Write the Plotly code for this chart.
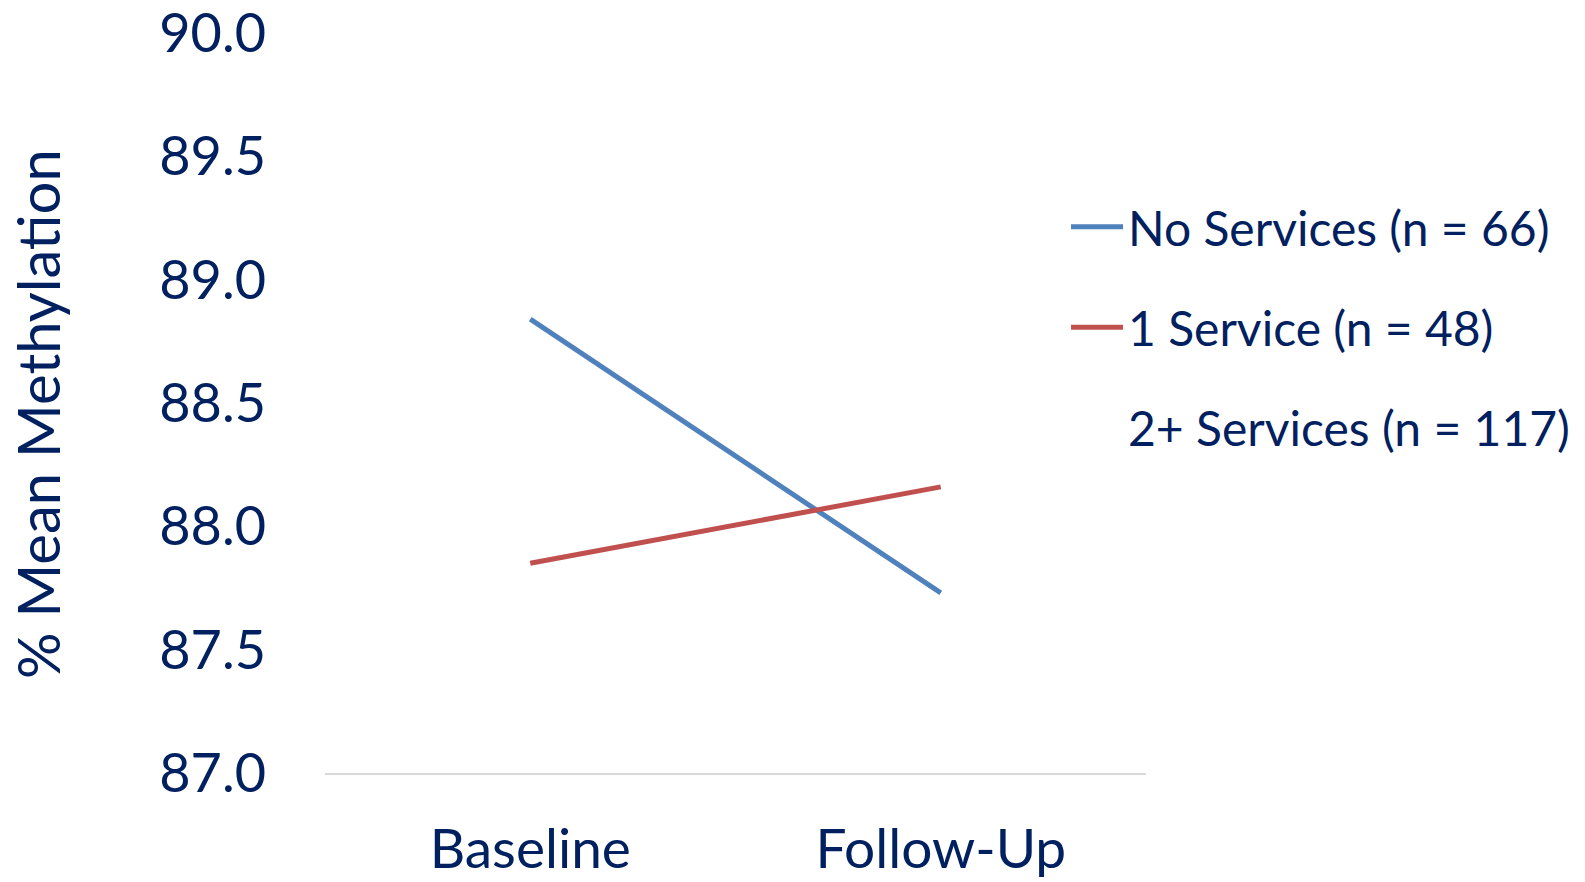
import plotly.graph_objects as go

# Mean methylation at each time point, by number of services received
timepoints = ["Baseline", "Follow-Up"]
no_services = [88.84, 87.73]
one_service = [87.85, 88.16]
two_plus_services = [None, None]

series_names = ["No Services (n = 66)", "1 Service (n = 48)", "2+ Services (n = 117)"]
series_colors = ["#4F81BD", "#C0504D", "rgba(0,0,0,0)"]

y_ticks = [87.0, 87.5, 88.0, 88.5, 89.0, 89.5, 90.0]

TEXT = "#002060"
FONT = "Lato"

fig = go.Figure()
for i, (name, vals, col) in enumerate(
    zip(series_names, [no_services, one_service, two_plus_services], series_colors)
):
    fig.add_trace(
        go.Scatter(
            x=timepoints,
            y=vals,
            name=name,
            mode="lines",
            line=dict(color=col, width=5),
            legendgroup=f"g{i}",
        )
    )

fig.update_layout(
    width=1585,
    height=882,
    autosize=False,
    margin=dict(l=325, r=439, t=33, b=109, autoexpand=False),
    paper_bgcolor="white",
    plot_bgcolor="white",
    font=dict(family=FONT, color=TEXT),
    showlegend=True,
    legend=dict(
        x=0.9026,
        xanchor="left",
        y=0.789,
        yanchor="top",
        font=dict(family=FONT, size=48, color=TEXT),
        traceorder="grouped",
        tracegroupgap=35,
        itemwidth=52,
        bgcolor="rgba(0,0,0,0)",
    ),
    xaxis=dict(
        type="category",
        range=[-0.5, 1.5],
        showgrid=False,
        zeroline=False,
        showline=True,
        linecolor="#D9D9D9",
        linewidth=2,
        ticks="",
        tickfont=dict(family=FONT, size=55, color=TEXT),
        ticklabelstandoff=27,
        ticklabeloverflow="allow",
    ),
    yaxis=dict(
        range=[87.0, 90.0],
        tickvals=y_ticks,
        ticktext=[f"{v:.1f}" for v in y_ticks],
        showgrid=False,
        zeroline=False,
        showline=False,
        ticks="",
        tickfont=dict(family=FONT, size=54, color=TEXT),
        ticklabelstandoff=58,
        ticklabeloverflow="allow",
    ),
    annotations=[
        dict(
            text="% Mean Methylation",
            textangle=-90,
            xref="paper",
            yref="paper",
            x=-0.351,
            y=0.485,
            xanchor="center",
            yanchor="middle",
            showarrow=False,
            font=dict(family=FONT, size=58, color=TEXT),
        )
    ],
)

fig.write_html("out.html")
